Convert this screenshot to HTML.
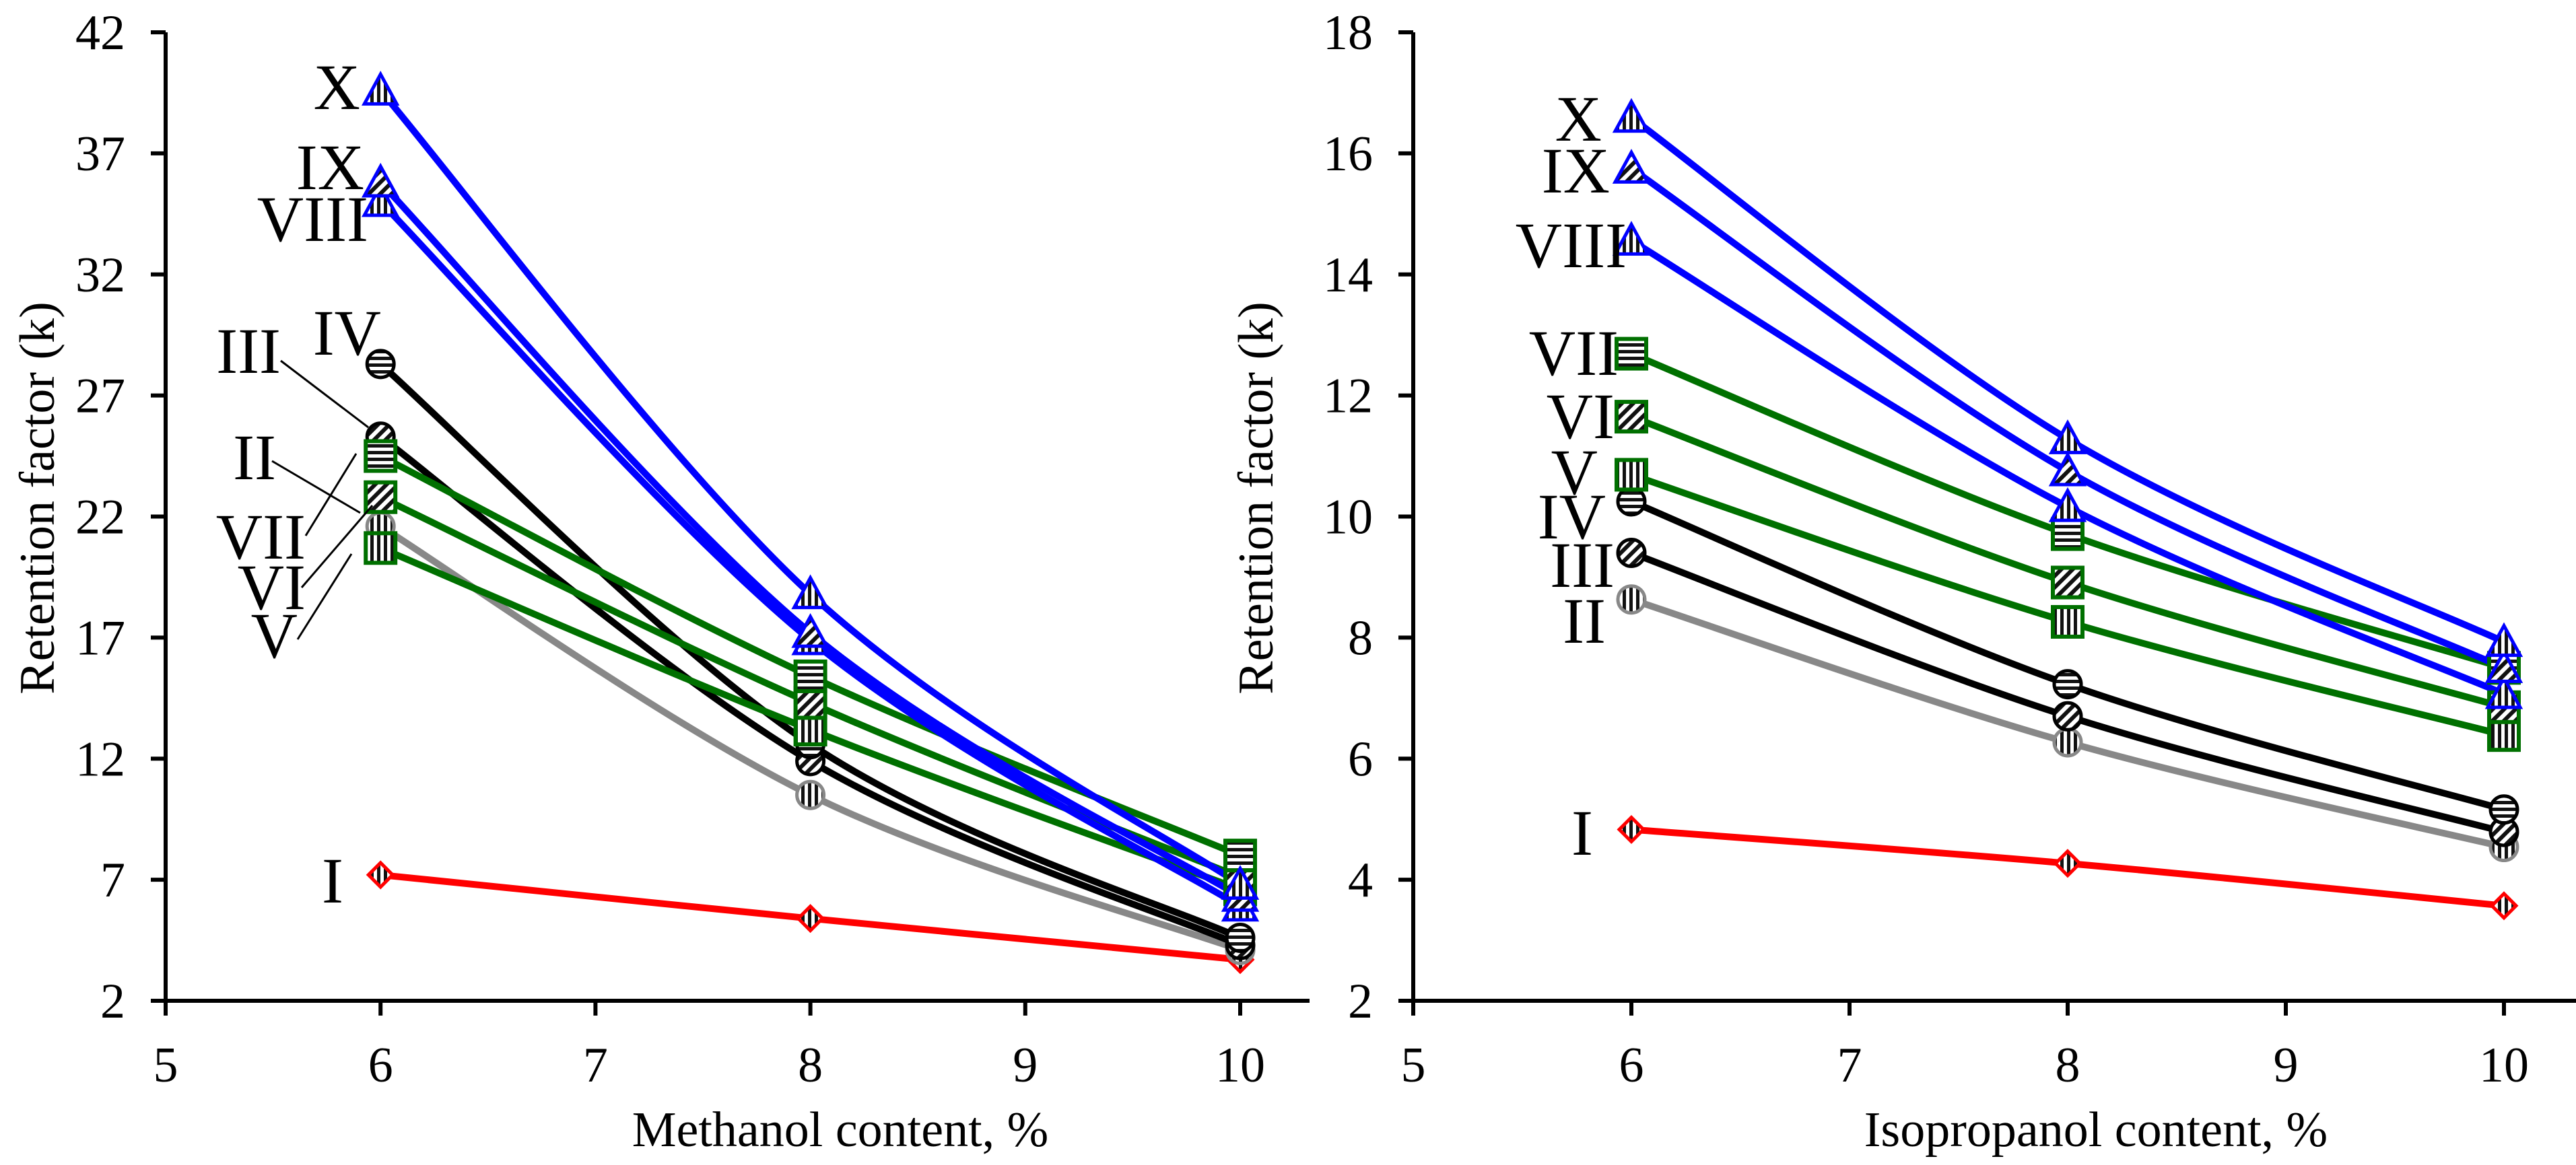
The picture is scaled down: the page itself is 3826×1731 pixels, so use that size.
<!DOCTYPE html>
<html><head><meta charset="utf-8">
<style>
html,body{margin:0;padding:0;background:#fff;}
svg{display:block;}
text{font-family:"Liberation Serif",serif;fill:#000;}
</style></head>
<body>
<svg id="chart" width="3826" height="1731" viewBox="0 0 3826 1731" xmlns="http://www.w3.org/2000/svg">
<defs>
  <pattern id="hs" patternUnits="userSpaceOnUse" width="10" height="10"><rect width="10" height="10" fill="#fff"/><rect y="0" width="10" height="5" fill="#111"/></pattern>
  <pattern id="ds" patternUnits="userSpaceOnUse" width="12" height="12" patternTransform="rotate(45)"><rect width="12" height="12" fill="#fff"/><rect x="0" width="6" height="12" fill="#111"/></pattern>
  <pattern id="vs" patternUnits="userSpaceOnUse" width="10" height="10"><rect width="10" height="10" fill="#fff"/><rect x="0" width="5" height="10" fill="#111"/></pattern>
</defs>
<g id="left"></g>
<g id="right"></g>
</svg>
<script>
// ---- data ----
const xValues = [6, 8, 10];
const seriesNames = ["I","II","III","IV","V","VI","VII","VIII","IX","X"];
const methI    = [7.2, 5.4, 3.7];
const methII   = [21.6, 10.5, 4.1];
const methIII  = [25.3, 11.9, 4.3];
const methIV   = [28.3, 12.6, 4.6];
const methV    = [20.7, 13.2, 6.6];
const methVI   = [22.8, 14.3, 7.1];
const methVII  = [24.5, 15.4, 8.0];
const methVIII = [35.0, 16.9, 5.9];
const methIX   = [35.8, 17.2, 6.3];
const methX    = [39.6, 18.8, 6.8];
const isoI    = [4.83, 4.27, 3.57];
const isoII   = [8.63, 6.27, 4.54];
const isoIII  = [9.40, 6.70, 4.79];
const isoIV   = [10.25, 7.23, 5.16];
const isoV    = [10.69, 8.26, 6.39];
const isoVI   = [11.65, 8.91, 6.85];
const isoVII  = [12.69, 9.71, 7.50];
const isoVIII = [14.56, 10.16, 7.07];
const isoIX   = [15.75, 10.75, 7.50];
const isoX    = [16.59, 11.28, 7.93];
const xTicks = [5, 6, 7, 8, 9, 10];
const methYTicks = [2, 7, 12, 17, 22, 27, 32, 37, 42];
const isoYTicks = [2, 4, 6, 8, 10, 12, 14, 16, 18];

const lineColors = ["#ff0000","#888888","#000000","#000000","#007000","#007000","#007000","#0000ff","#0000ff","#0000ff"];
const markerShapes = ["diamond","circle","circle","circle","square","square","square","triangle","triangle","triangle"];
const markerFills = ["url(#vs)","url(#vs)","url(#ds)","url(#hs)","url(#vs)","url(#ds)","url(#hs)","url(#vs)","url(#ds)","url(#vs)"];
const markerStroke = ["#ff0000","#888888","#000","#000","#007000","#007000","#007000","#0000ff","#0000ff","#0000ff"];

const NS = "http://www.w3.org/2000/svg";
function mk(tag, attrs, parent){const e=document.createElementNS(NS,tag);for(const k in attrs)e.setAttribute(k,attrs[k]);parent.appendChild(e);return e;}

function smoothPath(pts){
  let d = "M"+pts[0][0]+","+pts[0][1];
  for(let i=0;i<pts.length-1;i++){
    const p0=pts[i-1]||pts[i], p1=pts[i], p2=pts[i+1], p3=pts[i+2]||p2;
    const c1=[p1[0]+(p2[0]-p0[0])/6, p1[1]+(p2[1]-p0[1])/6];
    const c2=[p2[0]-(p3[0]-p1[0])/6, p2[1]-(p3[1]-p1[1])/6];
    d+=" C"+c1[0]+","+c1[1]+" "+c2[0]+","+c2[1]+" "+p2[0]+","+p2[1];
  }
  return d;
}

function drawMarker(g, shape, cx, cy, fill, stroke){
  const s=22;
  let m;
  if(shape==="circle") m=mk("circle",{cx:cx,cy:cy,r:20,fill:fill,stroke:stroke,"stroke-width":5},g);
  else if(shape==="square") m=mk("rect",{x:cx-s,y:cy-s,width:2*s,height:2*s,fill:fill,stroke:stroke,"stroke-width":6},g);
  else if(shape==="triangle") m=mk("polygon",{points:(cx)+","+(cy-s-2)+" "+(cx+s+2)+","+(cy+s-2)+" "+(cx-s-2)+","+(cy+s-2),fill:fill,stroke:stroke,"stroke-width":5},g);
  else m=mk("polygon",{points:cx+","+(cy-18)+" "+(cx+18)+","+cy+" "+cx+","+(cy+18)+" "+(cx-18)+","+cy,fill:fill,stroke:stroke,"stroke-width":5},g);
  
  
}

function panel(gid, cfg){
  const g=document.getElementById(gid);
  const X=v=>cfg.x0+(v-5)*(cfg.x1-cfg.x0)/5;
  const Y=v=>cfg.yBot-(v-cfg.ymin)*(cfg.yBot-cfg.yTop)/(cfg.ymax-cfg.ymin);
  const ya=mk("line",{x1:cfg.x0,y1:cfg.yTop,x2:cfg.x0,y2:cfg.yBot,stroke:"#000","stroke-width":6},g);
  
  
  const xa=mk("line",{x1:cfg.x0-22,y1:cfg.yBot,x2:cfg.xEnd,y2:cfg.yBot,stroke:"#000","stroke-width":6},g);
  
  
  cfg.yTicks.forEach(v=>{
    mk("line",{x1:cfg.x0-22,y1:Y(v),x2:cfg.x0,y2:Y(v),stroke:"#000","stroke-width":6},g);
    const t=mk("text",{x:cfg.x0-60,y:Y(v)+25,"text-anchor":"end","font-size":74},g);
    t.textContent=v;
    
    
  });
  xTicks.forEach(v=>{
    mk("line",{x1:X(v),y1:cfg.yBot,x2:X(v),y2:cfg.yBot+22,stroke:"#000","stroke-width":6},g);
    const t=mk("text",{x:X(v),y:cfg.yBot+120,"text-anchor":"middle","font-size":74},g);
    t.textContent=v;
    
    
  });
  const xt=mk("text",{x:cfg.xTitleX,y:1703,"text-anchor":"middle","font-size":74},g);
  xt.textContent=cfg.xTitle;
  
  
  const yt=mk("text",{x:0,y:0,"text-anchor":"middle","font-size":74,transform:"translate("+cfg.yTitleX+",740) rotate(-90)"},g);
  yt.textContent="Retention factor (k)";
  
  
  cfg.data.forEach((arr,i)=>{
    const pts=arr.map((v,j)=>[X(xValues[j]),Y(v)]);
    const p=mk("path",{d:smoothPath(pts),fill:"none",stroke:lineColors[i],"stroke-width":10,"stroke-linejoin":"round"},g);
    
    
  });
  cfg.data.forEach((arr,i)=>{
    arr.forEach((v,j)=>drawMarker(g,markerShapes[i],X(xValues[j]),Y(v),markerFills[i],markerStroke[i]));
  });
  cfg.labels.forEach((L,i)=>{
    const t=mk("text",{x:L[1],y:L[2]+32,"text-anchor":"end","font-size":96},g);
    t.textContent=L[0];
    
    
  });
  (cfg.leaders||[]).forEach(l=>{
    const ln=mk("line",{x1:l[0],y1:l[1],x2:l[2],y2:l[3],stroke:"#000","stroke-width":3},g);
    
    
  });
}

panel("left",{x0:246,x1:1842,xEnd:1945,yTop:48,yBot:1487,ymin:2,ymax:42,yTicks:methYTicks,
  xTitle:"Methanol content, %",xTitleX:1248,yTitleX:80,
  data:[methI,methII,methIII,methIV,methV,methVI,methVII,methVIII,methIX,methX],
  labels:[["X",535,130],["IX",541,249],["VIII",547,326],["IV",566,495],["III",417,522],["II",410,680],["VII",454,798],["VI",454,873],["V",442,945],["I",510,1309]],
  leaders:[[417,536,547,635],[404,685,535,762],[454,796,529,674],[448,873,553,751],[442,950,522,823]]});
panel("right",{x0:2099,x1:3719,xEnd:3826,yTop:48,yBot:1487,ymin:2,ymax:18,yTicks:isoYTicks,
  xTitle:"Isopropanol content, %",xTitleX:3113,yTitleX:1890,
  data:[isoI,isoII,isoIII,isoIV,isoV,isoVI,isoVII,isoVIII,isoIX,isoX],
  labels:[["X",2379,177],["IX",2391,254],["VIII",2416,365],["VII",2404,525],["VI",2398,619],["V",2373,702],["IV",2385,768],["III",2398,840],["II",2385,923],["I",2366,1238]]});
</script>
</body></html>
